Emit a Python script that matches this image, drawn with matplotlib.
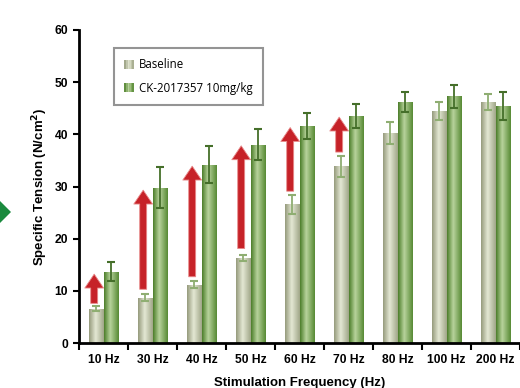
import numpy as np
import matplotlib
matplotlib.use("Agg")
import matplotlib.pyplot as plt
from matplotlib.patches import FancyArrowPatch, Rectangle, Polygon, Patch
from matplotlib.legend_handler import HandlerBase
from matplotlib.colors import LinearSegmentedColormap

categories = ["10 Hz", "30 Hz", "40 Hz", "50 Hz", "60 Hz", "70 Hz", "80 Hz", "100 Hz", "200 Hz"]
baseline = [6.6, 8.7, 11.2, 16.3, 26.6, 33.9, 40.3, 44.5, 46.2]
baseline_err = [0.5, 0.7, 0.7, 0.6, 1.8, 2.0, 2.1, 1.7, 1.6]
drug = [13.7, 29.8, 34.2, 38.0, 41.6, 43.5, 46.2, 47.3, 45.4]
drug_err = [1.9, 4.0, 3.5, 3.0, 2.4, 2.3, 2.0, 2.2, 2.7]
arrow_start = [7.6, 10.3, 12.7, 18.1, 29.1, 36.6]
arrow_end = [13.2, 29.3, 33.9, 37.8, 41.3, 43.3]
series_names = ["Baseline", "CK-2017357 10mg/kg"]

plt.rcParams['font.family'] = ['Liberation Sans', 'DejaVu Sans']

fig = plt.figure(figsize=(5.2, 3.88), dpi=100)
ax = fig.add_axes([79/520, 1-343/388, 441/520, 313/388])

base_cmap = LinearSegmentedColormap.from_list(
    "base", [(0, "#959b7c"), (0.45, "#e4e8d4"), (1, "#a0a688")])
drug_cmap = LinearSegmentedColormap.from_list(
    "drug", [(0, "#4c7e2a"), (0.42, "#b8d39c"), (1, "#578a34")])

x = np.arange(len(categories))
w = 0.30
grad = np.linspace(0, 1, 64).reshape(1, -1)

def grad_bars(xpos, vals, cmap):
    bars = ax.bar(xpos, vals, width=w, facecolor="none", edgecolor="none", zorder=2)
    for b in bars:
        x0, y0, bw, bh = b.get_x(), b.get_y(), b.get_width(), b.get_height()
        im = ax.imshow(grad, cmap=cmap, aspect="auto",
                       extent=(x0, x0 + bw, y0, y0 + bh), zorder=2,
                       interpolation="bilinear")
        im.set_clip_path(b)
    return bars

grad_bars(x - w/2, baseline, base_cmap)
grad_bars(x + w/2, drug, drug_cmap)

ax.errorbar(x - w/2, baseline, yerr=baseline_err, fmt="none", ecolor="#8fae72",
            elinewidth=1.3, capsize=3.2, capthick=1.5, zorder=4)
ax.errorbar(x + w/2, drug, yerr=drug_err, fmt="none", ecolor="#456f2a",
            elinewidth=1.3, capsize=3.2, capthick=1.5, zorder=4)

for i, (s, e) in enumerate(zip(arrow_start, arrow_end)):
    xa = x[i] - w/2 - 0.04
    arr = FancyArrowPatch((xa, s), (xa, e),
                          arrowstyle="simple,head_length=1.0,head_width=1.35,tail_width=0.5",
                          mutation_scale=10, shrinkA=0, shrinkB=0,
                          facecolor="#c62228", edgecolor="#e88a8a", linewidth=0.6,
                          zorder=5)
    ax.add_patch(arr)

ax.set_xlim(-0.5, len(categories) - 0.5)
ax.set_ylim(0, 60)
ax.set_yticks([0, 10, 20, 30, 40, 50, 60])
ax.set_xticks(x)
ax.set_xticklabels(categories)
ax.set_xticks(np.arange(-0.5, len(categories) + 0.5, 1), minor=True)
ax.tick_params(axis="x", which="major", length=0, pad=8)
ax.tick_params(axis="x", which="minor", length=5, width=1.5, direction="out")
ax.tick_params(axis="y", length=4, width=1.5, direction="out", pad=4)
for lab in ax.get_xticklabels() + ax.get_yticklabels():
    lab.set_fontweight("bold")
    lab.set_fontsize(8.7)

for sp in ["top", "right"]:
    ax.spines[sp].set_visible(False)
for sp in ["left", "bottom"]:
    ax.spines[sp].set_linewidth(2)

ax.set_ylabel("Specific Tension (N/cm$^\\mathbf{2}$)", fontsize=9.5, fontweight="bold", labelpad=3)
ax.set_xlabel("Stimulation Frequency (Hz)", fontsize=9.5, fontweight="bold", labelpad=8)


class GradHandler(HandlerBase):
    def __init__(self, cmap):
        super().__init__()
        self.cmap = cmap

    def create_artists(self, legend, orig_handle, xdescent, ydescent, width, height, fontsize, trans):
        arts = []
        n = 6
        sw = 7.0
        x0 = -xdescent
        h = height * 1.1
        y0 = -ydescent - 0.05 * height
        for k in range(n):
            c = self.cmap((k + 0.5) / n)
            arts.append(Rectangle((x0 + k * sw / n, y0), sw / n + 0.05, h,
                                  facecolor=c, edgecolor="none", transform=trans))
        return arts


h1 = Patch(label=series_names[0])
h2 = Patch(label=series_names[1])
leg = ax.legend([h1, h2], series_names, loc="upper left",
                bbox_to_anchor=((114 - 79) / 441, (343 - 48) / 313),
                borderaxespad=0, fancybox=False, frameon=True,
                handler_map={h1: GradHandler(base_cmap), h2: GradHandler(drug_cmap)},
                prop={"family": "Open Sans", "size": 8.3},
                handlelength=0.8, handletextpad=0.5, labelspacing=0.9,
                borderpad=0.9)
leg.get_frame().set_edgecolor("#7a7a7a")
leg.get_frame().set_linewidth(1.5)

diamond = Polygon([[-3/520, 1-198/388], [11/520, 1-212/388], [-3/520, 1-226/388], [-17/520, 1-212/388]],
                  closed=True, transform=fig.transFigure, facecolor="#1a8a3e",
                  edgecolor="none")
fig.patches.append(diamond)

fig.savefig("out.png", dpi=100)
